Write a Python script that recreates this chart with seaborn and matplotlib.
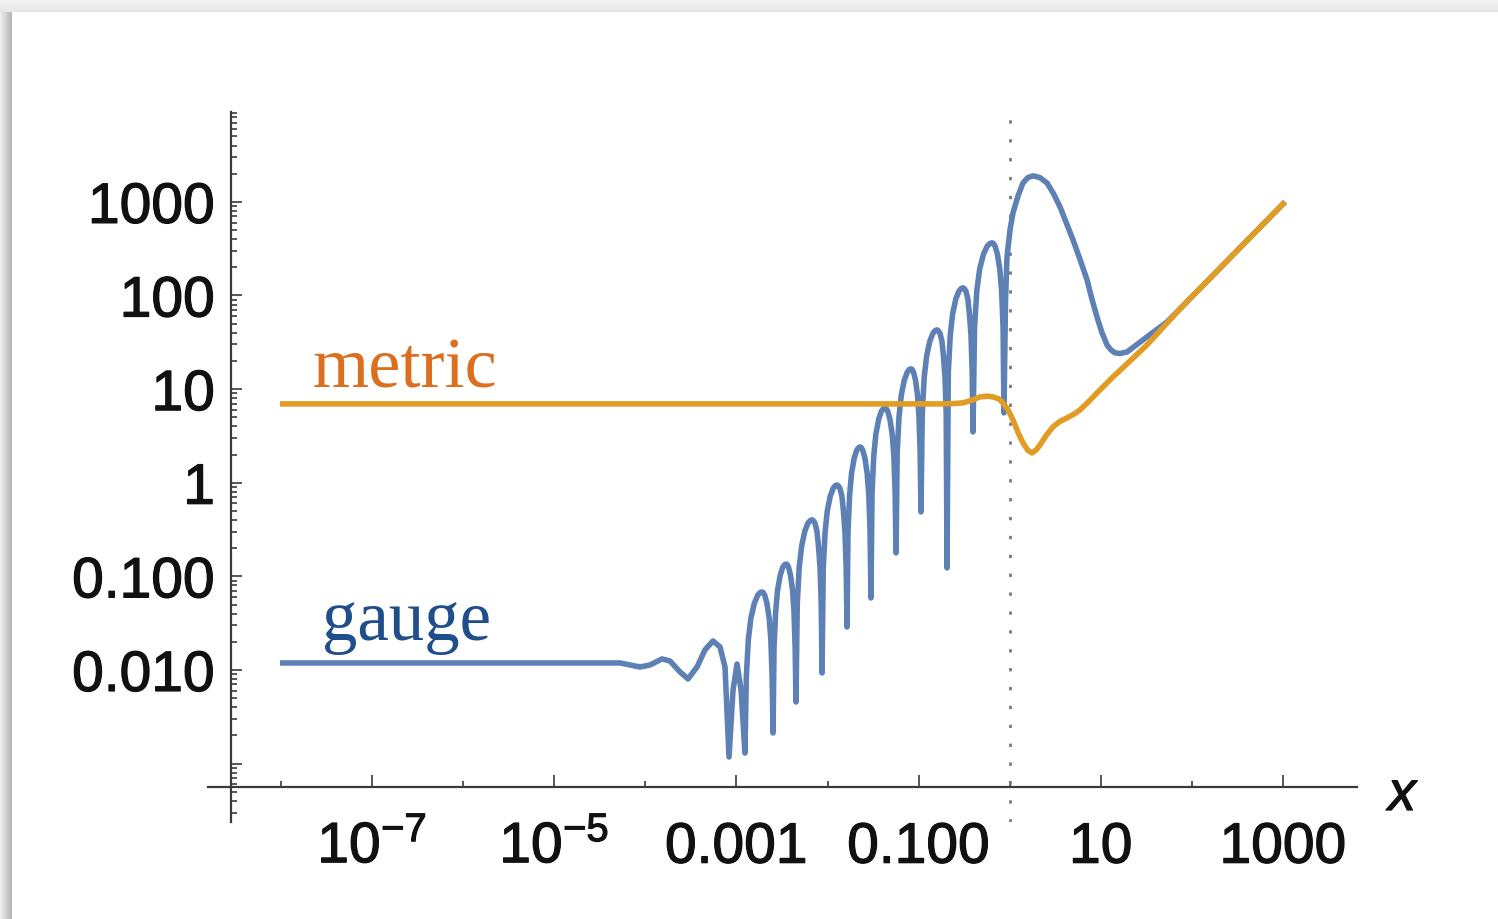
import numpy as np
import matplotlib
matplotlib.use("Agg")
import matplotlib.pyplot as plt
import matplotlib.patheffects as pe
from matplotlib.patches import Rectangle
from matplotlib.ticker import FixedLocator, LogLocator, NullFormatter
import seaborn as sns

# ---- data: log10(x) and log10(value) of the two curves ----
gauge_log10_x = [
    # flat start and first wiggles
    -8.010, -7.000, -6.000, -5.000, -4.497, -4.278, -4.058, -3.948, -3.817, -3.729,
    -3.619, -3.531, -3.432, -3.345, -3.257, -3.180, -3.125, -3.081, -3.037, -2.993,
    -2.949, -2.906,
    # oscillation lobes
    -2.891, -2.869, -2.841, -2.803, -2.766, -2.738, -2.719, -2.707, -2.689, -2.665, -2.640, -2.622, -2.608, -2.598,
    -2.587, -2.569, -2.548, -2.519, -2.491, -2.469, -2.455, -2.444, -2.428, -2.406, -2.384, -2.368, -2.355, -2.346,
    -2.332, -2.311, -2.284, -2.249, -2.214, -2.188, -2.170, -2.159, -2.138, -2.116, -2.099, -2.082, -2.069, -2.060,
    -2.047, -2.027, -2.003, -1.970, -1.937, -1.912, -1.896, -1.885, -1.864, -1.842, -1.825, -1.808, -1.795, -1.786,
    -1.775, -1.757, -1.736, -1.707, -1.679, -1.657, -1.643, -1.631, -1.613, -1.589, -1.565, -1.547, -1.533, -1.523,
    -1.511, -1.492, -1.469, -1.438, -1.408, -1.384, -1.369, -1.357, -1.339, -1.315, -1.290, -1.272, -1.258, -1.248,
    -1.235, -1.215, -1.190, -1.157, -1.124, -1.100, -1.083, -1.072, -1.056, -1.034, -1.012, -0.996, -0.983, -0.974,
    -0.960, -0.939, -0.912, -0.877, -0.842, -0.816, -0.798, -0.787, -0.766, -0.744, -0.727, -0.710, -0.697, -0.688,
    -0.674, -0.653, -0.627, -0.592, -0.557, -0.531, -0.513, -0.502, -0.481, -0.459, -0.442, -0.425, -0.412, -0.403,
    -0.386, -0.361, -0.330, -0.288, -0.246, -0.215, -0.194, -0.181, -0.161, -0.135, -0.109, -0.089, -0.073, -0.063,
    # large maximum, minimum and the rising tail
    -0.046, -0.030, 0.003, 0.036, 0.090, 0.146, 0.200, 0.256, 0.330, 0.409,
    0.480, 0.552, 0.620, 0.695, 0.770, 0.849, 0.900, 0.958, 1.010, 1.068,
    1.110, 1.156, 1.210, 1.288, 1.400, 1.507, 1.727, 1.869, 3.022,
]
gauge_log10_y = [
    -1.925, -1.925, -1.925, -1.925, -1.925, -1.925, -1.968, -1.947, -1.882, -1.904,
    -2.021, -2.096, -1.968, -1.786, -1.690, -1.754, -1.968, -2.929, -2.214, -1.936,
    -2.214, -2.887,
    -2.067, -1.677, -1.447, -1.287, -1.201, -1.172, -1.167, -1.172, -1.201, -1.287, -1.447, -1.677, -2.067, -2.673,
    -1.768, -1.378, -1.148, -0.988, -0.902, -0.873, -0.868, -0.873, -0.902, -0.988, -1.148, -1.378, -1.768, -2.342,
    -1.297, -0.907, -0.677, -0.517, -0.431, -0.402, -0.397, -0.402, -0.431, -0.517, -0.677, -0.907, -1.297, -2.032,
    -0.924, -0.534, -0.304, -0.144, -0.058, -0.029, -0.024, -0.029, -0.058, -0.144, -0.304, -0.534, -0.924, -1.541,
    -0.518, -0.128, 0.102, 0.262, 0.348, 0.377, 0.382, 0.377, 0.348, 0.262, 0.102, -0.128, -0.518, -1.231,
    -0.101, 0.289, 0.519, 0.679, 0.765, 0.794, 0.799, 0.794, 0.765, 0.679, 0.519, 0.289, -0.101, -0.750,
    0.316, 0.706, 0.936, 1.096, 1.182, 1.211, 1.216, 1.211, 1.182, 1.096, 0.936, 0.706, 0.316, -0.312,
    0.732, 1.122, 1.352, 1.512, 1.598, 1.627, 1.632, 1.627, 1.598, 1.512, 1.352, 1.122, 0.732, -0.910,
    1.181, 1.571, 1.801, 1.961, 2.047, 2.076, 2.081, 2.076, 2.047, 1.961, 1.801, 1.571, 1.181, 0.543,
    1.662, 2.052, 2.282, 2.442, 2.528, 2.557, 2.562, 2.557, 2.528, 2.442, 2.282, 2.052, 1.662, 0.746,
    1.953, 2.410, 2.700, 2.882, 3.060, 3.203, 3.260, 3.278, 3.260, 3.203,
    3.090, 2.947, 2.780, 2.594, 2.390, 2.167, 1.970, 1.771, 1.610, 1.472,
    1.420, 1.387, 1.380, 1.397, 1.480, 1.558, 1.718, 1.857, 3.000,
]

metric_log10_x = [
    -8.010, -0.765, -0.620, -0.513, -0.420, -0.326, -0.250, -0.183, -0.120, -0.074,
    -0.020, 0.036, 0.090, 0.146, 0.200, 0.245, 0.290, 0.333, 0.400, 0.475,
    0.550, 0.629, 0.700, 0.772, 0.860, 0.958, 1.134, 1.507, 1.869, 3.022,
]
metric_log10_y = [
    0.842, 0.842, 0.845, 0.853, 0.880, 0.917, 0.925, 0.917, 0.895, 0.853,
    0.780, 0.671, 0.540, 0.425, 0.345, 0.318, 0.350, 0.404, 0.505, 0.596,
    0.655, 0.692, 0.730, 0.778, 0.860, 0.959, 1.130, 1.472, 1.857, 3.000,
]

# ---- axis ticks ----
x_major_exp = [-7, -5, -3, -1, 1, 3]
x_major_labels = [r"$10^{-7}$", r"$10^{-5}$", "0.001", "0.100", "10", "1000"]
x_minor_exp = [-8, -6, -4, -2, 0, 2]
y_major_exp = [-3, -2, -1, 0, 1, 2, 3]
y_major_labels = ["", "0.010", "0.100", "1", "10", "100", "1000"]

BLUE = "#5E81B5"
ORANGE = "#E19C24"
AXIS = "#3a3a3a"
INK = "#111111"

sns.set_style("ticks")
plt.rcParams["font.family"] = ["Liberation Sans", "DejaVu Sans"]
plt.rcParams["mathtext.fontset"] = "custom"
plt.rcParams["mathtext.rm"] = "Liberation Sans"
plt.rcParams["mathtext.it"] = "Liberation Sans:italic"
plt.rcParams["mathtext.bf"] = "Liberation Sans:bold"

W, H = 1498, 919
fig = plt.figure(figsize=(W / 100, H / 100), dpi=100, facecolor="white")

# window shadow along the left and top edges
edge = 12
for i in range(edge):
    shade = 0.93 - 0.22 * i / (edge - 1)
    fig.patches.append(Rectangle((i / W, 0), 1.0 / W, 1 - edge / H,
                                 transform=fig.transFigure, facecolor=str(shade),
                                 edgecolor="none", zorder=-5))
for j in range(edge):
    shade = 0.95 - 0.05 * j / (edge - 1)
    fig.patches.append(Rectangle((0, 1 - (j + 1) / H), 1, 1.0 / H,
                                 transform=fig.transFigure, facecolor=str(shade),
                                 edgecolor="none", zorder=-5))

ax = fig.add_axes([208 / W, 1 - 822 / H, 1149 / W, 710 / H])
ax.patch.set_alpha(0)
ax.set_xscale("log")
ax.set_yscale("log")

gx = 10.0 ** np.array(gauge_log10_x)
gy = 10.0 ** np.array(gauge_log10_y)
mx = 10.0 ** np.array(metric_log10_x)
my = 10.0 ** np.array(metric_log10_y)

ax.axvline(1.0, color="#7a7a7a", lw=2.0, linestyle=(0, (1.2, 5.6)), zorder=1)
sns.lineplot(x=gx, y=gy, ax=ax, color=BLUE, linewidth=4.0, sort=False,
             estimator=None, legend=False, zorder=3)
sns.lineplot(x=mx, y=my, ax=ax, color=ORANGE, linewidth=4.0, sort=False,
             estimator=None, legend=False, zorder=4)
for ln in ax.get_lines():
    ln.set_solid_joinstyle("round")
    ln.set_solid_capstyle("butt")

for s in ["top", "right"]:
    ax.spines[s].set_visible(False)
ax.spines["left"].set_position(("data", 10 ** -8.548))
ax.spines["bottom"].set_position(("data", 10 ** -3.25))
for s in ["left", "bottom"]:
    ax.spines[s].set_color(AXIS)
    ax.spines[s].set_linewidth(1.6)

ax.set_xticks(10.0 ** np.array(x_major_exp), labels=x_major_labels)
ax.xaxis.set_minor_locator(FixedLocator(10.0 ** np.array(x_minor_exp)))
ax.xaxis.set_minor_formatter(NullFormatter())
ax.set_yticks(10.0 ** np.array(y_major_exp), labels=y_major_labels)
ax.yaxis.set_minor_locator(LogLocator(base=10, subs=np.arange(2, 10), numticks=100))
ax.yaxis.set_minor_formatter(NullFormatter())
ax.set_xlim(10 ** -8.80, 10 ** 3.812)
ax.set_ylim(10 ** -3.624, 10 ** 3.96)

ax.tick_params(axis="both", which="both", direction="in", color=AXIS,
               labelcolor=INK, width=1.2, bottom=True, left=True,
               top=False, right=False)
ax.tick_params(axis="x", which="major", length=8.5, pad=54.5, labelsize=41)
ax.tick_params(axis="x", which="minor", length=4)
ax.tick_params(axis="y", which="major", length=8, pad=11.5, labelsize=41)
ax.tick_params(axis="y", which="minor", length=4)

# slightly heavier strokes for the numerals
heavy = [pe.withStroke(linewidth=0.9, foreground=INK)]
for lbl in ax.get_xticklabels():
    lbl.set_verticalalignment("baseline")
    lbl.set_path_effects(heavy)
for lbl in ax.get_yticklabels():
    lbl.set_path_effects(heavy)

ax.grid(False)

fig.text(1402 / W, 1 - 796 / H, "x", style="italic", fontsize=40,
         ha="center", va="center", color=INK, path_effects=heavy)
fig.text(313 / W, 1 - 387 / H, "metric", family="Liberation Serif", fontsize=52,
         color="#DB6E1F", ha="left", va="baseline")
fig.text(322 / W, 1 - 640 / H, "gauge", family="Liberation Serif", fontsize=51,
         color="#1F4E8A", ha="left", va="baseline")

fig.savefig("out.png", dpi=100, facecolor="white")
